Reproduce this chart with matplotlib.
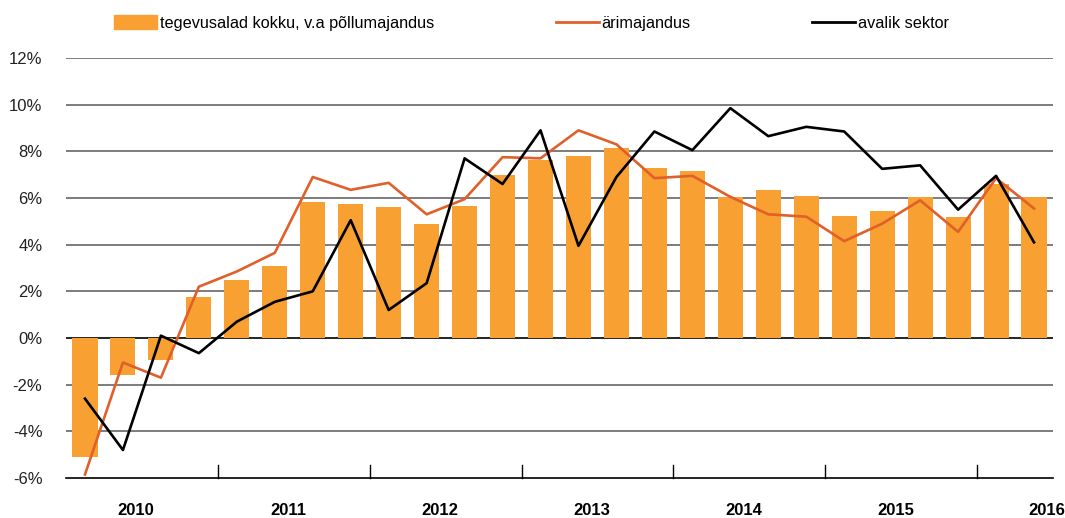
import numpy as np
import matplotlib.pyplot as plt
from matplotlib.patches import Patch
from matplotlib.lines import Line2D

plt.rcParams['font.family'] = ['Liberation Sans', 'DejaVu Sans']

# kvartalid 2010 I - 2016 II
kokku = [-5.1, -1.6, -0.95, 1.75, 2.5, 3.1, 5.85, 5.75, 5.6, 4.9, 5.65, 7.0,
         7.65, 7.8, 8.15, 7.3, 7.15, 6.05, 6.35, 6.1, 5.25, 5.45, 6.05, 5.2,
         6.6, 6.05]
arimajandus = [-5.85, -1.05, -1.7, 2.2, 2.85, 3.65, 6.9, 6.35, 6.65, 5.3, 5.95, 7.75,
               7.7, 8.9, 8.3, 6.85, 6.95, 6.05, 5.3, 5.2, 4.15, 4.9, 5.9, 4.55,
               6.85, 5.55]
avalik = [-2.6, -4.8, 0.1, -0.65, 0.7, 1.55, 2.0, 5.05, 1.2, 2.35, 7.7, 6.6,
          8.9, 3.95, 6.9, 8.85, 8.05, 9.85, 8.65, 9.05, 8.85, 7.25, 7.4, 5.5,
          6.95, 4.1]
aastad = ['2010', '2011', '2012', '2013', '2014', '2015', '2016']

x = np.arange(len(kokku))

fig = plt.figure(figsize=(10.65, 5.18), dpi=100)
ax = fig.add_axes([66 / 1065, 40 / 518, 987 / 1065, 420 / 518])

for y in range(-4, 13, 2):
    ax.axhline(y, color='black' if y == 0 else '#666666', lw=1.2, zorder=1)

ax.bar(x, kokku, width=0.66, color='#F8A031', zorder=2)
ax.plot(x, arimajandus, color='#E0602A', lw=1.9, zorder=3)
ax.plot(x, avalik, color='black', lw=1.9, zorder=4)

ax.set_xlim(-0.5, 25.5)
ax.set_ylim(-6, 12)
for s in ['top', 'right', 'left']:
    ax.spines[s].set_visible(False)
ax.spines['bottom'].set_color('black')
ax.spines['bottom'].set_linewidth(1.2)

ax.set_yticks(range(-6, 13, 2))
ax.set_yticklabels([f'{v}%' for v in range(-6, 13, 2)], fontsize=12, color='#222222')
ax.tick_params(axis='y', length=0, pad=17)
ax.set_xticks([])

# aastate eraldajad ja sildid
for b in np.arange(3.5, 25, 4):
    ax.plot([b, b], [-6, -5.45], color='black', lw=1, zorder=5, clip_on=False)
for i, lab in enumerate(aastad):
    ax.text(1.35 + 4 * i, -7.4, lab, ha='center', va='center', fontsize=12,
            fontweight='bold', color='black')

handles = [Patch(color='#F8A031'),
           Line2D([], [], color='#E0602A', lw=2),
           Line2D([], [], color='black', lw=2)]
labels = ['tegevusalad kokku, v.a põllumajandus', 'ärimajandus', 'avalik sektor']
fig.legend(handles, labels, loc='center left', bbox_to_anchor=(114 / 1065, 1 - 23 / 518),
           ncol=3, frameon=False, fontsize=11.7, handlelength=2.65, handleheight=0.98,
           handletextpad=0.15, columnspacing=7.5, borderpad=0, borderaxespad=0)

fig.savefig('out.png', dpi=100)
